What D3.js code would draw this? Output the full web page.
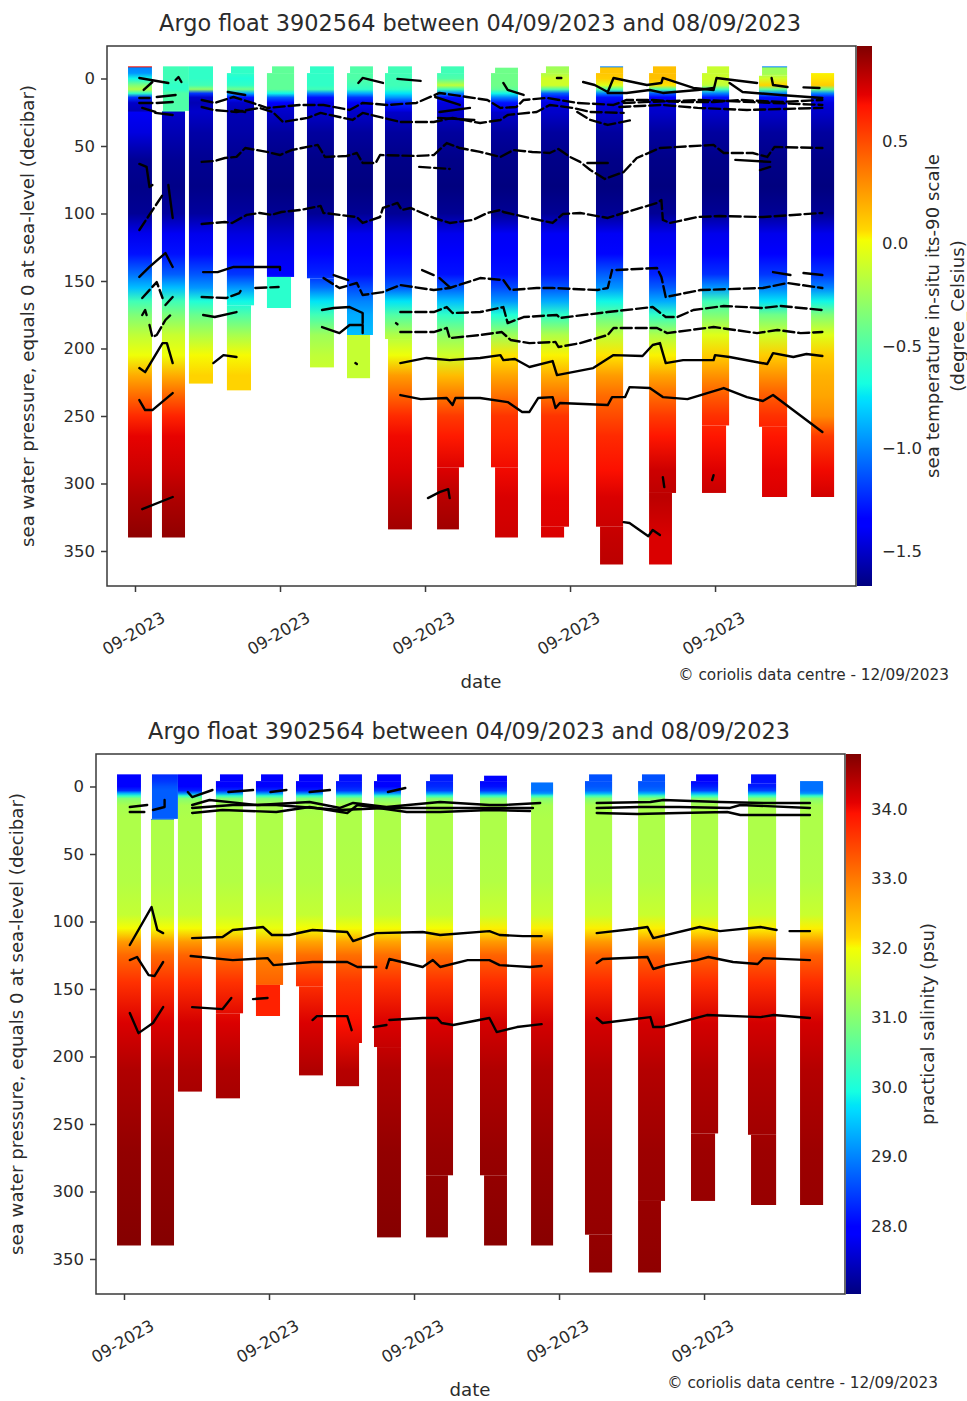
<!DOCTYPE html>
<html>
<head>
<meta charset="utf-8">
<title>Argo float 3902564</title>
<style>
body { margin: 0; background: #fff; }
svg text { font-family: "DejaVu Sans", sans-serif; fill: #2b2b2b; }
.axis path, .axis line { stroke: #3a3a3a; stroke-width: 1.5; fill: none; }
.axis text { font-size: 16.5px; }
.contour { fill: none; stroke: #000; stroke-width: 2.4; stroke-linejoin: round; stroke-linecap: round; }
</style>
</head>
<body>
<svg id="chart" width="967" height="1401"></svg>
<script src="https://cdn.jsdelivr.net/npm/d3@7"></script>
<script>
// date ticks are days after 04/09/2023
var dayTicks = [0, 1, 2, 3, 4];
var dayLabels = ["09-2023", "09-2023", "09-2023", "09-2023", "09-2023"];
var pressureTicks = [0, 50, 100, 150, 200, 250, 300, 350];
var tempTicks = [-1.5, -1.0, -0.5, 0.0, 0.5];
var salTicks = [28, 29, 30, 31, 32, 33, 34];

// mesh cells: profile, day left, day right, pressure top, pressure bottom
var tempCells = [
  [0, -0.048, 0.117, -9, 340],
  [1, 0.193, 0.372, -9, 24], [1, 0.186, 0.345, 24, 340],
  [2, 0.372, 0.538, -9, 226],
  [3, 0.662, 0.821, -9, -4], [3, 0.634, 0.821, -4, 168], [3, 0.634, 0.800, 168, 231],
  [4, 0.945, 1.097, -9, -4], [4, 0.910, 1.097, -4, 147], [4, 0.910, 1.076, 147, 170],
  [5, 1.207, 1.372, -9, -4], [5, 1.186, 1.372, -4, 148], [5, 1.207, 1.372, 148, 214],
  [6, 1.483, 1.641, -9, -4], [6, 1.462, 1.641, -4, 190], [6, 1.462, 1.621, 190, 222],
  [7, 1.745, 1.910, -9, -4], [7, 1.724, 1.910, -4, 193], [7, 1.745, 1.910, 193, 334],
  [8, 2.110, 2.269, -9, -4], [8, 2.083, 2.269, -4, 288], [8, 2.083, 2.234, 288, 334],
  [9, 2.483, 2.641, -8, -4], [9, 2.455, 2.641, -4, 288], [9, 2.483, 2.641, 288, 340],
  [10, 2.834, 2.993, -9, -4], [10, 2.800, 2.993, -4, 332], [10, 2.800, 2.959, 332, 340],
  [11, 3.207, 3.366, -9, -4], [11, 3.179, 3.366, -4, 332], [11, 3.207, 3.366, 332, 360],
  [12, 3.572, 3.731, -9, -4], [12, 3.545, 3.731, -4, 307], [12, 3.545, 3.703, 307, 360],
  [13, 3.945, 4.097, -9, -4], [13, 3.910, 4.097, -4, 257], [13, 3.910, 4.076, 257, 307],
  [14, 4.324, 4.497, -9, -2], [14, 4.303, 4.497, -2, 258], [14, 4.324, 4.497, 258, 310],
  [15, 4.662, 4.821, -4, 310]
];
// salinity has the same mesh except profile 10
var salCells = tempCells.filter(function(c) { return c[0] != 10; })
  .concat([[10, 2.807, 2.959, -3, 340]]);

// bottom cell of these profiles has one colour: [profile, value]
var tempFlat = [[4, -0.62], [6, -0.13]];
var salFlat = [[4, 33.8]];

var tempLevels = [-9, -8.4, -8, -4, 0, 5, 8, 11, 14, 18, 24, 25,
  40, 60, 80, 100, 115, 130, 145, 155, 165, 175, 190, 205, 220, 235, 250, 265, 290, 310, 340, 360];
var tempProfiles = [
  [0.7, 0.7, -1.0, -0.95, -0.7, -0.35, -0.2, -0.6, -1.2, -1.5, -1.55, -1.4,
   -1.45, -1.62, -1.65, -1.62, -1.42, -1.3, -1.05, -0.85, -0.55, -0.35, -0.15, 0, 0.2, 0.4, 0.6, 0.72, 0.78, 0.85, 0.93, 0.96],
  [-0.55, -0.55, -0.55, -0.55, -0.55, -0.6, -0.6, -0.5, -0.5, -0.5, -0.5, -1.5,
   -1.55, -1.62, -1.65, -1.6, -1.4, -1.3, -1.1, -0.85, -0.55, -0.35, -0.12, 0, 0.2, 0.42, 0.62, 0.72, 0.78, 0.85, 0.92, 0.95],
  [-0.6, -0.6, -0.6, -0.6, -0.6, -0.55, -0.3, -1.2, -1.5, -1.55, -1.5, -1.5,
   -1.58, -1.63, -1.65, -1.6, -1.42, -1.32, -1.12, -0.95, -0.65, -0.42, -0.2, 0.02, 0.08, 0.08, 0.3, 0.5, 0.7, 0.8, 0.85, 0.9],
  [-0.6, -0.6, -0.6, -0.6, -0.65, -0.6, -0.4, -0.9, -1.3, -1.5, -1.55, -1.55,
   -1.58, -1.63, -1.65, -1.6, -1.45, -1.35, -1.2, -0.95, -0.7, -0.5, -0.22, 0.02, 0.08, 0.08, 0.3, 0.5, 0.7, 0.8, 0.85, 0.9],
  [-0.45, -0.45, -0.45, -0.45, -0.45, -0.45, -0.45, -0.7, -1.1, -1.35, -1.5, -1.5,
   -1.6, -1.65, -1.67, -1.62, -1.5, -1.42, -1.35, -1.2, -1.0, -0.7, -0.3, 0, 0.1, 0.3, 0.5, 0.7, 0.75, 0.8, 0.85, 0.9],
  [-0.6, -0.6, -0.6, -0.6, -0.6, -0.6, -0.55, -1.0, -1.3, -1.45, -1.5, -1.5,
   -1.6, -1.65, -1.67, -1.62, -1.45, -1.35, -1.25, -1.05, -0.75, -0.55, -0.25, -0.15, -0.1, 0.1, 0.3, 0.5, 0.7, 0.8, 0.85, 0.9],
  [-0.5, -0.5, -0.5, -0.5, -0.5, -0.55, -0.6, -0.9, -1.2, -1.4, -1.5, -1.5,
   -1.6, -1.65, -1.67, -1.62, -1.42, -1.35, -1.3, -1.15, -1.0, -0.9, -0.85, -0.1, 0, 0.2, 0.4, 0.6, 0.7, 0.8, 0.85, 0.9],
  [-0.55, -0.55, -0.55, -0.55, -0.55, -0.55, -0.6, -0.75, -0.95, -1.25, -1.45, -1.5,
   -1.6, -1.65, -1.67, -1.62, -1.45, -1.35, -1.25, -1.1, -0.75, -0.5, -0.2, 0, 0.25, 0.42, 0.6, 0.7, 0.75, 0.82, 0.9, 0.93],
  [-0.55, -0.55, -0.55, -0.55, -0.5, -0.15, -0.55, -1.0, -1.3, -1.45, -1.5, -1.5,
   -1.6, -1.65, -1.67, -1.62, -1.42, -1.35, -1.3, -1.1, -0.85, -0.6, -0.3, -0.1, 0.15, 0.35, 0.55, 0.65, 0.75, 0.83, 0.9, 0.93],
  [-0.4, -0.4, -0.4, -0.4, -0.4, -0.4, -0.45, -0.7, -1.0, -1.3, -1.45, -1.5,
   -1.6, -1.65, -1.67, -1.62, -1.4, -1.35, -1.3, -1.15, -0.95, -0.65, -0.25, 0.05, 0.22, 0.38, 0.57, 0.62, 0.7, 0.75, 0.78, 0.8],
  [-0.25, -0.25, -0.25, -0.2, -0.1, -0.1, -0.5, -1.1, -1.3, -1.45, -1.5, -1.5,
   -1.6, -1.65, -1.67, -1.62, -1.4, -1.35, -1.28, -1.12, -0.9, -0.6, -0.2, 0.03, 0.2, 0.37, 0.57, 0.62, 0.68, 0.72, 0.75, 0.78],
  [-1.0, -1.0, 0.12, 0.12, 0.1, -0.05, -0.5, -1.0, -1.3, -1.45, -1.5, -1.5,
   -1.6, -1.65, -1.67, -1.62, -1.4, -1.33, -1.1, -0.95, -0.7, -0.45, -0.15, 0.05, 0.25, 0.4, 0.5, 0.6, 0.68, 0.75, 0.8, 0.82],
  [0.14, 0.14, 0.14, 0.14, 0.14, 0.05, -0.5, -1.1, -1.35, -1.45, -1.5, -1.5,
   -1.6, -1.65, -1.67, -1.62, -1.42, -1.35, -1.25, -1.1, -0.9, -0.6, -0.2, 0.03, 0.22, 0.4, 0.55, 0.66, 0.78, 0.82, 0.75, 0.75],
  [-0.12, -0.12, -0.12, -0.12, -0.1, -0.15, -0.55, -1.0, -1.3, -1.45, -1.5, -1.5,
   -1.6, -1.65, -1.67, -1.62, -1.42, -1.35, -1.22, -0.95, -0.55, -0.35, -0.05, 0.1, 0.28, 0.45, 0.58, 0.66, 0.74, 0.8, 0.8, 0.8],
  [-1.0, -1.0, -0.25, -0.25, -0.1, 0.08, -0.45, -1.0, -1.3, -1.45, -1.5, -1.5,
   -1.6, -1.65, -1.67, -1.62, -1.42, -1.35, -1.2, -1.0, -0.75, -0.4, -0.1, 0.1, 0.28, 0.45, 0.58, 0.66, 0.72, 0.75, 0.75, 0.75],
  [0.03, 0.03, 0.03, 0.03, 0.05, 0.1, -0.4, -1.0, -1.3, -1.45, -1.5, -1.5,
   -1.6, -1.65, -1.67, -1.62, -1.42, -1.35, -1.2, -1.0, -0.7, -0.35, -0.05, 0.1, 0.18, 0.22, 0.3, 0.55, 0.7, 0.77, 0.78, 0.78]
];

var salLevels = [-9, -4, 0, 3, 5, 7, 9, 14, 24, 25,
  40, 70, 95, 105, 115, 125, 145, 175, 210, 270, 340, 360];
var salProfiles = [
  [27.95, 27.95, 27.95, 28.3, 29.3, 30.2, 31.0, 31.3, 31.35, 31.35, 31.35, 31.4, 31.55, 32.0, 32.7, 33.15, 33.65, 34.15, 34.45, 34.65, 34.75, 34.77],
  [28.3, 28.4, 28.6, 28.7, 28.7, 28.7, 28.7, 28.7, 28.7, 31.35, 31.35, 31.4, 31.55, 32.0, 32.65, 33.15, 33.65, 34.15, 34.45, 34.65, 34.75, 34.77],
  [27.9, 27.9, 27.95, 28.2, 29.0, 30.2, 31.0, 31.3, 31.35, 31.35, 31.35, 31.4, 31.55, 32.0, 32.7, 33.2, 33.7, 34.2, 34.45, 34.65, 34.75, 34.77],
  [27.95, 27.95, 28.0, 28.3, 29.1, 30.2, 31.0, 31.3, 31.35, 31.35, 31.35, 31.4, 31.6, 31.95, 32.6, 33.1, 33.65, 34.15, 34.45, 34.65, 34.75, 34.77],
  [27.95, 27.95, 28.0, 28.3, 29.1, 30.2, 31.0, 31.3, 31.35, 31.35, 31.35, 31.4, 31.6, 31.9, 32.4, 32.9, 33.2, 33.8, 34.4, 34.65, 34.75, 34.77],
  [27.9, 27.9, 27.95, 28.2, 29.0, 30.2, 31.0, 31.3, 31.35, 31.35, 31.35, 31.4, 31.55, 32.0, 32.6, 33.1, 33.65, 34.15, 34.45, 34.65, 34.75, 34.77],
  [28.1, 28.1, 28.2, 28.4, 29.1, 30.2, 31.0, 31.3, 31.35, 31.35, 31.35, 31.4, 31.55, 32.0, 32.6, 33.1, 33.6, 33.95, 34.4, 34.65, 34.75, 34.77],
  [27.95, 27.95, 28.0, 28.4, 29.1, 30.2, 31.0, 31.3, 31.35, 31.35, 31.35, 31.4, 31.55, 32.0, 32.6, 33.1, 33.65, 34.15, 34.45, 34.65, 34.75, 34.77],
  [28.2, 28.2, 28.3, 28.5, 29.2, 30.2, 31.0, 31.3, 31.35, 31.35, 31.35, 31.4, 31.55, 32.0, 32.65, 33.1, 33.65, 34.15, 34.45, 34.62, 34.72, 34.75],
  [28.0, 28.0, 28.1, 28.4, 29.1, 30.2, 31.0, 31.3, 31.35, 31.35, 31.35, 31.4, 31.6, 32.05, 32.7, 33.2, 33.7, 34.2, 34.45, 34.62, 34.72, 34.75],
  [28.85, 28.85, 28.85, 28.85, 29.1, 30.2, 31.0, 31.3, 31.35, 31.35, 31.35, 31.4, 31.6, 32.05, 32.7, 33.2, 33.7, 34.2, 34.45, 34.62, 34.72, 34.75],
  [28.6, 28.6, 28.65, 28.8, 29.3, 30.3, 31.0, 31.3, 31.35, 31.35, 31.35, 31.4, 31.6, 32.05, 32.7, 33.2, 33.7, 34.2, 34.42, 34.58, 34.65, 34.68],
  [28.6, 28.6, 28.65, 28.8, 29.3, 30.3, 31.0, 31.3, 31.35, 31.35, 31.35, 31.4, 31.6, 32.05, 32.7, 33.2, 33.7, 34.2, 34.42, 34.58, 34.65, 34.68],
  [28.0, 28.0, 28.2, 28.5, 29.3, 30.2, 31.0, 31.3, 31.35, 31.35, 31.35, 31.4, 31.6, 32.05, 32.7, 33.2, 33.7, 34.2, 34.42, 34.58, 34.65, 34.68],
  [28.1, 28.1, 28.2, 28.5, 29.3, 30.2, 31.0, 31.3, 31.35, 31.35, 31.35, 31.4, 31.6, 32.05, 32.7, 33.2, 33.7, 34.2, 34.42, 34.58, 34.65, 34.68],
  [28.85, 28.85, 28.85, 28.85, 29.1, 30.2, 31.0, 31.3, 31.35, 31.35, 31.35, 31.4, 31.6, 32.05, 32.7, 33.2, 33.7, 34.2, 34.42, 34.58, 34.65, 34.68]
];

// contour lines as [day, pressure]
var tempDashed = [
  [[0.46,107.8],[0.62,106.3],[0.67,107],[0.77,101],[0.86,99.6],[0.94,101],[1.01,98.9],[1.14,97.4],[1.28,94.4],[1.30,99.6],[1.41,101],[1.53,102.6],[1.57,107],[1.69,102.6],[1.71,95.9],[1.81,92.2],[1.84,97.4],[1.90,95.9],[2.06,103.3],[2.17,107],[2.33,104.8],[2.43,99.6],[2.52,97.4],[2.54,98.9],[2.72,103.3],[2.88,107],[2.95,100.4],[3.07,99.6],[3.26,103.3],[3.37,99.6],[3.60,92.2],[3.63,90],[3.64,104.8],[3.69,107],[3.88,102.6],[4.03,101.9],[4.33,102.6],[4.74,99.6]],
  [[0.46,61.8],[0.55,61.1],[0.62,58.9],[0.70,58.1],[0.76,51.5],[0.91,54.4],[1.00,56.7],[1.08,53],[1.26,49.2],[1.31,58.1],[1.46,57.4],[1.53,55.2],[1.57,62.6],[1.66,62.6],[1.69,56.7],[1.94,57.4],[2.06,56.7],[2.15,47.8],[2.24,51.5],[2.38,54.4],[2.52,58.1],[2.61,53],[2.74,54.4],[2.86,55.2],[2.92,52.2],[3.00,58.1],[3.07,61.8],[3.14,67.8],[3.24,74.4],[3.37,69.3],[3.46,58.9],[3.62,51.5],[3.99,49.2],[4.06,55.2],[4.26,55.2],[4.36,58.1],[4.41,50.7],[4.74,51.5]],
  [[0.46,15.9],[0.55,18.1],[0.68,13.7],[0.81,18.1],[0.91,21.8],[1.14,19.6],[1.30,19.6],[1.48,23.3],[1.57,18.1],[1.74,19.6],[1.94,18.1],[2.10,10.7],[2.29,13.7],[2.43,15.9],[2.52,21.8],[2.63,21.1],[2.68,15.9],[2.84,14.4],[3.05,18.1],[3.30,19.6],[3.39,15.9],[3.57,15.9],[3.76,17.4],[3.99,17.4],[4.17,15.9],[4.45,17.4],[4.74,15.9]],
  [[0.46,21.1],[0.54,23.3],[0.70,24.8],[0.86,21.8],[0.95,24.8],[1.02,32.2],[1.19,29.2],[1.28,25.5],[1.50,30.7],[1.57,25.5],[1.83,32.2],[2.06,32.2],[2.19,29.2],[2.38,33],[2.52,30.7],[2.57,27],[2.77,24.8],[2.86,19.6],[3.02,21.8],[3.14,24.8],[3.37,25.5]],
  [[3.05,24.8],[3.14,30.7],[3.26,34.4],[3.43,30.7]],
  [[3.34,21.1],[3.64,19.6],[3.88,21.8],[4.22,23.3],[4.74,21.8]],
  [[3.37,18.1],[3.90,15.9],[4.74,19.6]],
  [[1.30,147.8],[1.41,155.2],[1.53,151.5],[1.57,160.4],[1.71,158.2],[1.83,153],[2.06,156.7],[2.17,155.2],[2.38,147.8],[2.54,149.3],[2.59,156.7],[2.77,155.2],[2.88,155.2],[3.19,156.7],[3.26,155.2],[3.29,141.9]],
  [[3.32,141.9],[3.60,140.4],[3.63,147],[3.66,161.9],[3.76,159.7],[3.90,156.7],[4.33,155.2],[4.50,151.5],[4.74,155.2]],
  [[0.46,161.9],[0.63,162.6],[0.72,158.9],[0.74,155.2]],
  [[0.83,155.2],[0.99,154.5]],
  [[1.83,187.8],[2.06,187.8],[2.15,184.8],[2.17,192.3],[2.38,190],[2.53,187.8],[2.59,193.7],[2.72,196],[2.90,195.2],[2.92,198.9],[3.07,196],[3.26,190],[3.30,184.8],[3.60,184.8],[3.67,188.6],[3.99,184.1],[4.29,188.6],[4.43,186.3],[4.59,188.6],[4.74,187.8]],
  [[1.83,173],[2.06,173],[2.15,169.3],[2.19,173.7],[2.38,173],[2.54,169.3],[2.57,181.2],[2.68,176.7],[2.91,175.2],[2.93,177.4],[3.26,173],[3.57,169.3],[3.66,176.7],[3.74,176.7],[3.85,171.5],[4.06,168.5],[4.33,170],[4.45,168.5],[4.74,171.5]],
  [[0.05,162.6],[0.15,150.8],[0.19,162.6]],
  [[0.03,112.2],[0.19,86.3]],
  [[1.96,65.5],[2.17,67]],
  [[0.05,175.2],[0.07,171.5],[0.08,175.2]],
  [[0.10,182.6],[0.12,191.5],[0.15,190],[0.21,178.9],[0.26,173.7]]
];
var tempSolid = [
  [[1.83,210.8],[2.01,207],[2.17,208.6],[2.38,207],[2.52,204.9],[2.54,208.6],[2.62,207.8],[2.72,213.7],[2.88,209.3],[2.91,219.7],[3.16,214.5],[3.30,204.9],[3.50,205.6],[3.57,197.4],[3.62,196],[3.66,210.8],[3.78,208.6],[3.99,208.6],[4.00,204.9],[4.10,206.3],[4.36,211.5],[4.40,203.4],[4.54,206.3],[4.63,204.1],[4.74,205.6]],
  [[1.83,234.5],[1.97,237.5],[2.15,236.7],[2.19,241.9],[2.21,236.7],[2.38,236.7],[2.57,239.7],[2.67,247],[2.72,247],[2.78,236.7],[2.88,236],[2.90,244.1],[2.93,240.4],[3.26,241.9],[3.29,236],[3.38,236],[3.41,228.6],[3.55,229.3],[3.64,236],[3.81,237.5],[4.06,229.3],[4.22,236],[4.33,238.9],[4.40,234.5],[4.74,261.9]],
  [[3.09,2.6],[3.17,4.8],[3.26,10],[3.30,-0.4],[3.53,4.8],[3.63,3.3],[3.64,-0.4],[3.85,7],[3.99,8.5],[4.01,-0.4],[4.29,3.3]],
  [[3.26,10.7],[3.39,10.7],[3.55,8.5],[3.64,10.7],[3.88,8.5],[3.99,7]],
  [[4.10,3.3],[4.19,10],[4.45,12.2],[4.74,14.4]],
  [[2.54,3.3],[2.57,8.5],[2.68,12.2]],
  [[2.91,-0.4],[2.94,-0.4]],
  [[4.39,-0.4],[4.40,4.8],[4.50,6.3]],
  [[4.61,6.6],[4.72,7]],
  [[1.54,3.3],[1.57,-0.4],[1.71,3.3]],
  [[1.81,0.3],[1.97,1.8]],
  [[0.03,-0.4],[0.23,3.3]],
  [[0.06,8.5],[0.12,2.6]],
  [[0.28,1.1],[0.30,-1.1],[0.32,2.6]],
  [[0.03,14.4],[0.10,14.4]],
  [[0.15,13.7],[0.28,12.2]],
  [[0.03,18.1],[0.12,18.1]],
  [[0.15,18.1],[0.26,17.4]],
  [[0.05,21.8],[0.14,24.8]],
  [[0.14,25.5],[0.26,27]],
  [[0.03,63.3],[0.08,65.5],[0.10,80.4],[0.12,78.9]],
  [[0.23,78.9],[0.26,103.3]],
  [[0.03,147],[0.10,139.6],[0.21,129.3],[0.26,139.6]],
  [[0.21,167.8],[0.26,161.9]],
  [[0.03,214.5],[0.07,217.5],[0.19,196],[0.22,196],[0.26,210.8]],
  [[0.03,238.2],[0.07,245.6],[0.12,245.6],[0.26,233]],
  [[0.05,319],[0.26,310]],
  [[0.47,143.4],[0.57,143.4],[0.68,139.6],[1.0,139.6],[1.0,141.9]],
  [[0.47,175.2],[0.55,176.7],[0.70,173]],
  [[0.54,210.8],[0.61,204.9],[0.70,206.3]],
  [[1.37,145.6],[1.47,149.3]],
  [[1.98,141.9],[2.06,145.6]],
  [[2.10,147.8],[2.17,154.5]],
  [[4.40,143.4],[4.52,145.6]],
  [[4.61,144.1],[4.74,145.6]],
  [[1.29,171.5],[1.37,170],[1.48,169.3],[1.57,173.7],[1.57,181.2]],
  [[1.29,184.1],[1.41,188.6],[1.48,182.6],[1.57,182.6],[1.57,188.6]],
  [[1.52,210.8],[1.53,211.5]],
  [[1.80,181.2],[1.81,182]],
  [[2.02,310.8],[2.10,306.4],[2.16,304.2],[2.17,310.8]],
  [[3.37,328.6],[3.41,329.3],[3.54,339],[3.57,334.5],[3.62,338.2]],
  [[3.64,295.3],[3.65,302.7]],
  [[3.99,293.8],[3.98,297.5]],
  [[4.14,60.3],[4.38,61.8]],
  [[4.31,67.8],[4.38,65.5]],
  [[3.12,62.6],[3.26,62.6]],
  [[0.64,10],[0.76,12.2]],
  [[0.69,23.3],[0.76,24.8]],
  [[2.07,13.7],[2.24,19.6]],
  [[2.10,24.8],[2.31,21.8]],
  [[2.09,29.2],[2.34,30.7]]
];
var salLines = [
  [[0.47,112.3],[0.68,111.5],[0.75,106.3],[0.96,104.1],[1.02,110],[1.14,110],[1.30,106.3],[1.54,107.8],[1.58,114.5],[1.74,108.6],[2.06,107.8],[2.18,110],[2.52,107.1],[2.59,110],[2.75,110.8],[2.88,110.8]],
  [[3.26,108.6],[3.51,105.6],[3.61,104.1],[3.65,112.3],[3.97,104.1],[4.11,107.1],[4.39,104.1],[4.50,106.3]],
  [[4.59,107.1],[4.73,107.1]],
  [[0.46,125.6],[0.75,128.6],[0.99,127.1],[1.03,132.3],[1.30,130],[1.54,130],[1.61,133.7],[1.74,133.7]],
  [[1.81,134.5],[1.83,127.8],[2.06,133.7],[2.13,128.6],[2.18,133.7],[2.37,128.6],[2.52,128.6],[2.59,132.3],[2.80,133.7],[2.88,133]],
  [[3.26,130.8],[3.30,127.8],[3.61,126.3],[3.65,135.2],[3.74,132.3],[3.95,128.6],[4.03,126.3],[4.20,130],[4.37,131.5],[4.41,127.1],[4.73,128.6]],
  [[1.30,173],[1.33,170.1],[1.54,170.1],[1.57,180.5]],
  [[1.72,178.2],[1.81,176.7]],
  [[1.83,173],[2.06,171.5],[2.16,171.5],[2.19,175.2],[2.27,176.7],[2.52,171.5],[2.57,181.9],[2.71,178.2],[2.88,176]],
  [[3.26,171.5],[3.30,175.2],[3.63,170.8],[3.65,178.2],[3.71,178.2],[4.02,169.3],[4.39,170.8],[4.48,169.3],[4.73,171.5]],
  [[0.04,117.4],[0.19,89.3],[0.23,106.3],[0.27,108.6]],
  [[0.04,128.6],[0.09,126.3],[0.17,139.7],[0.21,140.4],[0.27,130]],
  [[0.04,167.8],[0.10,182.7],[0.20,175.2],[0.27,163.4]],
  [[0.47,163.4],[0.68,164.9],[0.74,156.7]],
  [[0.89,157.5],[0.99,156.7]],
  [[0.44,4.1],[0.47,7.8],[0.61,2.6]],
  [[0.72,4.1],[0.89,2.6]],
  [[1.01,4.1],[1.12,2.6]],
  [[1.28,4.1],[1.42,2.6]],
  [[1.82,4.1],[1.94,1.1]],
  [[0.47,13.7],[0.59,10],[0.92,13.7],[1.28,11.5],[1.49,15.9],[1.58,12.2],[1.81,15.2],[2.18,11.5],[2.52,13.7],[2.62,13.7],[2.87,12.2]],
  [[0.47,15.9],[0.75,13.7],[1.05,13.7],[1.49,17.4],[1.81,15.9],[2.52,15.9],[2.82,15.9]],
  [[0.47,19.6],[0.68,17.4],[1.05,18.9],[1.28,15.2],[1.54,19.6],[1.61,13.7],[1.95,18.9],[2.18,18.9],[2.52,17.4],[2.80,18.2]],
  [[0.04,15.2],[0.16,13.7]],
  [[0.20,17.4],[0.28,15.2],[0.28,10]],
  [[0.04,18.9],[0.14,18.9]],
  [[3.26,12.2],[3.63,11.5],[3.72,10],[4.11,11.5],[4.41,12.2],[4.73,12.2]],
  [[3.26,15.9],[3.56,15.2],[3.83,15.2],[4.18,15.9],[4.25,13.7],[4.73,15.9]],
  [[3.26,19.6],[3.54,20.4],[3.83,19.6],[4.16,18.9],[4.25,21.1],[4.73,21.1]]
];

// jet colormap
var jet = d3.scaleLinear()
  .domain([0, 0.11, 0.125, 0.34, 0.35, 0.375, 0.5, 0.64, 0.65, 0.66, 0.89, 0.91, 1])
  .range(["#00007f", "#0000ff", "#0000ff", "#00dbff", "#00e5f7", "#16ffe1", "#7dff7a", "#f4ff03", "#ffea00", "#ffd700", "#ff1200", "#e40000", "#7f0000"]);

var svg = d3.select("#chart");
var defs = svg.append("defs");

function drawPanel(o) {
  var x = d3.scaleLinear().domain([-0.193, 4.972]).range([o.left, o.left + 749]);
  var y = d3.scaleLinear().domain([-24.07, 375.93]).range([o.top, o.top + 540]);
  var colorValue = d3.scaleLinear().domain(o.range).range([0, 1]);
  var bar = d3.scaleLinear().domain(o.range).range([o.top + 540, o.top]);
  var g = svg.append("g");

  // one vertical gradient per profile
  o.profiles.forEach(function(row, i) {
    var grad = defs.append("linearGradient")
      .attr("id", o.id + i)
      .attr("gradientUnits", "userSpaceOnUse")
      .attr("x1", 0).attr("x2", 0)
      .attr("y1", y(o.levels[0])).attr("y2", y(o.levels[o.levels.length - 1]));
    var span = o.levels[o.levels.length - 1] - o.levels[0];
    row.forEach(function(v, k) {
      grad.append("stop")
        .attr("offset", (o.levels[k] - o.levels[0]) / span)
        .attr("stop-color", jet(colorValue(v)));
    });
  });

  g.selectAll("rect.cell").data(o.cells).enter().append("rect")
    .attr("class", "cell")
    .attr("x", function(c) { return x(c[1]); })
    .attr("width", function(c) { return x(c[2]) - x(c[1]); })
    .attr("y", function(c) { return y(c[3]); })
    .attr("height", function(c) { return y(c[4]) - y(c[3]); })
    .attr("fill", function(c, i) {
      var flat = o.flat.filter(function(f) {
        return f[0] == c[0] && (i == o.cells.length - 1 || o.cells[i + 1][0] != c[0]);
      });
      return flat.length ? jet(colorValue(flat[0][1])) : "url(#" + o.id + c[0] + ")";
    });

  var line = d3.line()
    .x(function(d) { return x(d[0]); })
    .y(function(d) { return y(d[1]); });

  g.selectAll("path.solid").data(o.solid).enter().append("path")
    .attr("class", "contour solid")
    .attr("d", line);
  g.selectAll("path.dashed").data(o.dashed).enter().append("path")
    .attr("class", "contour dashed")
    .attr("stroke-dasharray", "11 4")
    .attr("d", line);

  // frame and axes
  g.append("rect")
    .attr("x", o.left).attr("y", o.top).attr("width", 749).attr("height", 540)
    .attr("fill", "none").attr("stroke", "#3a3a3a").attr("stroke-width", 1.5);

  var yAxis = g.append("g").attr("class", "axis")
    .attr("transform", "translate(" + o.left + ",0)")
    .call(d3.axisLeft(y).tickValues(pressureTicks).tickSize(6).tickPadding(6).tickFormat(d3.format("d")));
  yAxis.select(".domain").remove();

  var xAxis = g.append("g").attr("class", "axis")
    .attr("transform", "translate(0," + (o.top + 540) + ")")
    .call(d3.axisBottom(x).tickValues(dayTicks).tickSize(6)
      .tickFormat(function(d, i) { return dayLabels[i]; }));
  xAxis.select(".domain").remove();
  xAxis.selectAll("text")
    .attr("text-anchor", "middle")
    .attr("dy", null)
    .attr("transform", "translate(-2,47) rotate(-30)")
    .attr("y", 6);

  // colorbar
  var barGrad = defs.append("linearGradient").attr("id", o.id + "bar")
    .attr("x1", 0).attr("x2", 0).attr("y1", 1).attr("y2", 0);
  jet.domain().forEach(function(f) {
    barGrad.append("stop").attr("offset", f).attr("stop-color", jet(f));
  });
  g.append("rect")
    .attr("x", o.left + 750).attr("y", o.top).attr("width", 15).attr("height", 540)
    .attr("fill", "url(#" + o.id + "bar)");

  var cAxis = g.append("g").attr("class", "axis")
    .attr("transform", "translate(" + (o.left + 765) + ",0)")
    .call(d3.axisRight(bar).tickValues(o.ticks).tickSize(0).tickPadding(10).tickFormat(d3.format(o.tickFormat)));
  cAxis.select(".domain").remove();

  // texts
  function label(text, tx, ty, size, rotate) {
    g.append("text")
      .attr("text-anchor", "middle")
      .attr("font-size", size)
      .attr("transform", "translate(" + tx + "," + ty + ")" + (rotate ? " rotate(-90)" : ""))
      .text(text);
  }
  label(o.title, o.left + 373, o.top - 15, 22.4);
  label("sea water pressure, equals 0 at sea-level (decibar)", o.left - 73, o.top + 270, 18.2, true);
  label("date", o.left + 374, o.top + 642, 18.2);
  g.append("text")
    .attr("x", o.left + 842).attr("y", o.top + 634)
    .attr("text-anchor", "end").attr("font-size", 15.3)
    .text("© coriolis data centre - 12/09/2023");
  o.sideLabels.forEach(function(s) { label(s[0], s[1], o.top + 270, 18.2, true); });
}

drawPanel({
  id: "temp", left: 107, top: 46,
  range: [-1.67, 0.963], ticks: tempTicks, tickFormat: ".1f",
  levels: tempLevels, profiles: tempProfiles, cells: tempCells, flat: tempFlat,
  solid: tempSolid, dashed: tempDashed,
  title: "Argo float 3902564 between 04/09/2023 and 08/09/2023",
  sideLabels: [["sea temperature in-situ its-90 scale", 939], ["(degree_Celsius)", 964]]
});
drawPanel({
  id: "sal", left: 96, top: 754,
  range: [27.02, 34.79], ticks: salTicks, tickFormat: ".1f",
  levels: salLevels, profiles: salProfiles, cells: salCells, flat: salFlat,
  solid: salLines, dashed: [],
  title: "Argo float 3902564 between 04/09/2023 and 08/09/2023",
  sideLabels: [["practical salinity (psu)", 934]]
});
</script>
</body>
</html>
